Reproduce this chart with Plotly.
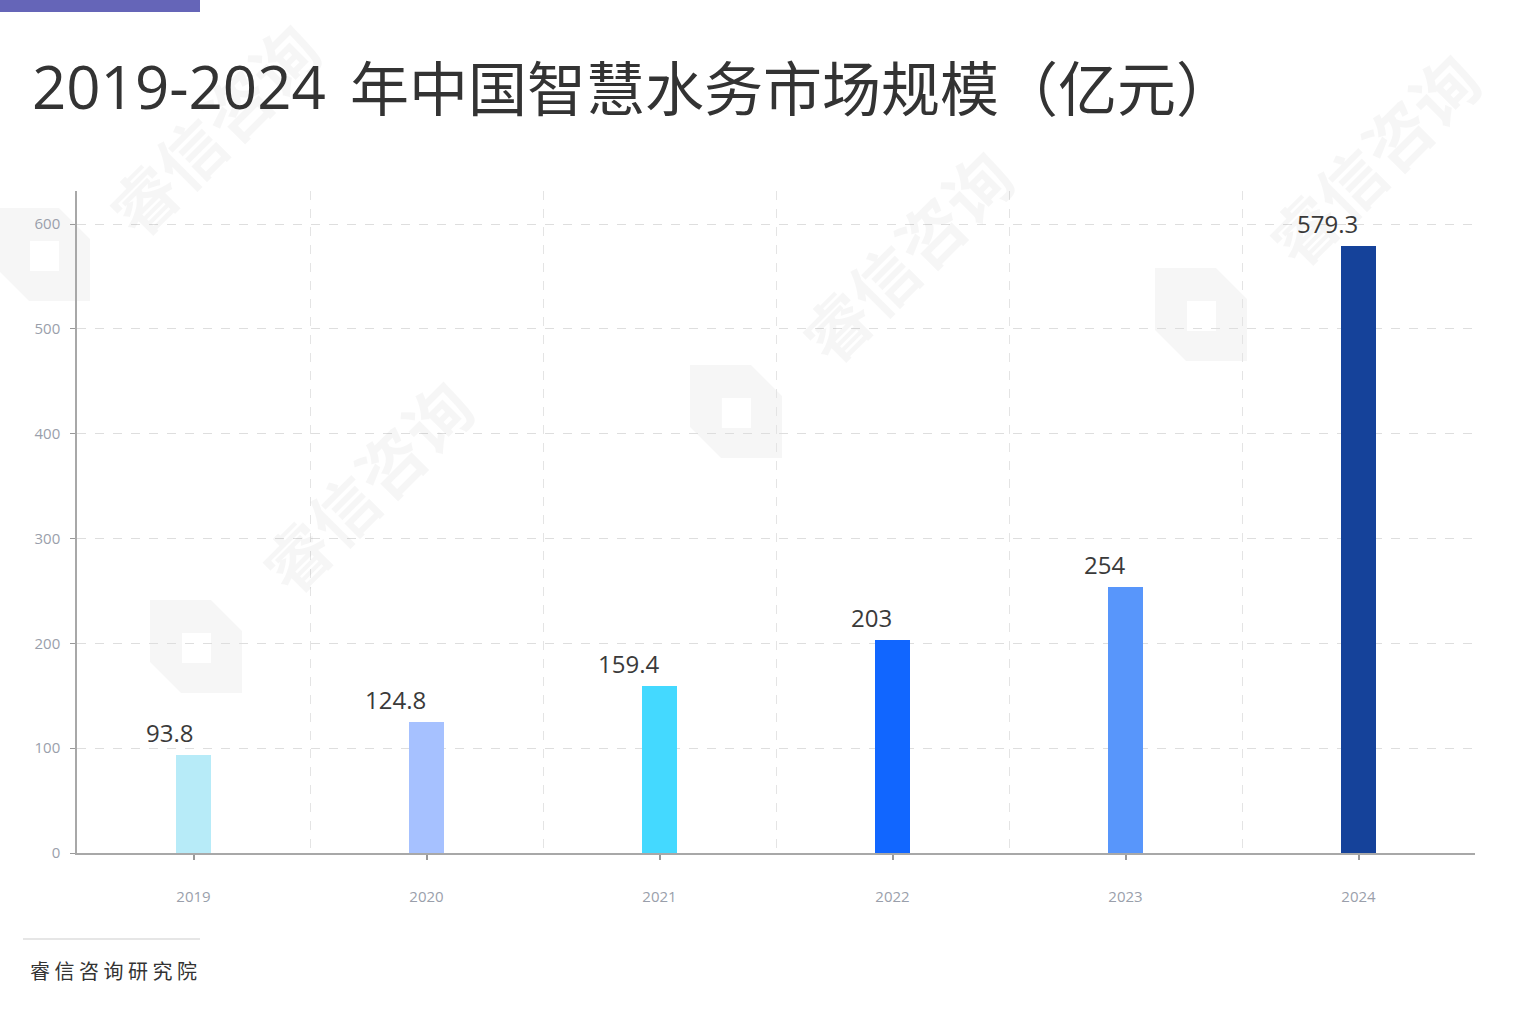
import plotly.graph_objects as go

years = ["2019", "2020", "2021", "2022", "2023", "2024"]
values = [93.8, 124.8, 159.4, 203, 254, 579.3]
value_labels = ["93.8", "124.8", "159.4", "203", "254", "579.3"]
bar_colors = ["#b7ebf8", "#a6c1ff", "#44d9ff", "#1166ff", "#5896fb", "#15429a"]
y_ticks = [0, 100, 200, 300, 400, 500, 600]

title_num = "2019-2024"
title_cn = "年中国智慧水务市场规模（亿元）"
source_text = "睿 信 咨 询 研 究 院"
watermark_text = "睿信咨询"

W, H = 1522, 1010
L, R, T, B = 77, 47, 191, 157
pw, ph = W - L - R, H - T - B


def px_x(px):
    return (px - L) / pw


def px_y(py):
    return (H - B - py) / ph


xs = list(range(len(years)))

fig = go.Figure()

# faint logo watermarks
for (ox, oy) in [(-2, 208), (150, 600), (690, 365), (1155, 268)]:
    outer = [(0, 0), (61, 0), (92, 31), (92, 93), (31, 93), (0, 62)]
    inner = [(32, 33), (61, 33), (61, 63), (32, 63)]

    def poly(pts):
        return "M " + " L ".join(f"{px_x(ox + a):.5f},{px_y(oy + b):.5f}" for a, b in pts) + " Z"

    fig.add_shape(type="path", xref="paper", yref="paper", path=poly(outer) + " " + poly(inner),
                  fillcolor="rgba(0,0,0,0.035)", line=dict(width=0), layer="below",
                  fillrule="evenodd")

fig.add_trace(go.Bar(
    x=xs, y=values, width=0.146,
    marker=dict(color=bar_colors, line=dict(width=0)),
    hoverinfo="skip",
))

# value labels (right edge aligned at bar centre, as in reference)
for x, v, t in zip(xs, values, value_labels):
    fig.add_annotation(x=x, y=v, xref="x", yref="y", text=t, showarrow=False,
                       xanchor="right", yanchor="bottom", yshift=4, xshift=1,
                       font=dict(family="Open Sans, Noto Sans, sans-serif", size=24, color="#3a3a3a"))

# text watermarks
wm_font = dict(family="Noto Sans CJK SC", size=66, color="rgba(0,0,0,0.035)")
for (cx, cy) in [(212, 128), (365, 485), (905, 255), (1372, 158)]:
    fig.add_annotation(x=px_x(cx), y=px_y(cy), xref="paper", yref="paper",
                       text="<b>" + watermark_text + "</b>", showarrow=False, textangle=-45,
                       font=wm_font, xanchor="center", yanchor="middle")

axis_font = dict(family="Open Sans, Noto Sans, sans-serif", size=15, color="#9a9fab")
fig.update_layout(
    width=W, height=H,
    margin=dict(l=L, r=R, t=T, b=B),
    paper_bgcolor="white", plot_bgcolor="white",
    showlegend=False,
    bargap=0,
    xaxis=dict(
        range=[-0.5, len(years) - 0.5],
        tickvals=xs, ticktext=years,
        showgrid=False, zeroline=False,
        showline=True, linecolor="#a8a8a8", linewidth=1.5,
        ticks="outside", ticklen=5, tickcolor="#999999", tickwidth=1.5,
        ticklabelstandoff=24,
        tickfont=axis_font,
        minor=dict(tickvals=[i + 0.5 for i in xs], showgrid=True, gridcolor="#e4e4e4",
                   griddash="dash", gridwidth=1, ticks=""),
        fixedrange=True,
    ),
    yaxis=dict(
        range=[0, 631.5],
        tickvals=y_ticks,
        showgrid=True, gridcolor="#dedede", griddash="dash", gridwidth=1,
        zeroline=False,
        showline=True, linecolor="#a8a8a8", linewidth=1.5,
        ticks="outside", ticklen=5, tickcolor="#999999",
        ticklabelstandoff=7,
        tickfont=axis_font,
        fixedrange=True,
    ),
)

# title, header bar, footer
title_font = dict(family="Open Sans, Noto Sans CJK SC", size=60, color="#333333")
fig.add_annotation(x=px_x(30), y=px_y(86), xref="paper", yref="paper", text=title_num,
                   showarrow=False, xanchor="left", yanchor="middle", font=title_font)
fig.add_annotation(x=px_x(348), y=px_y(86), xref="paper", yref="paper", text=title_cn,
                   showarrow=False, xanchor="left", yanchor="middle",
                   font=dict(family="Noto Sans CJK SC", size=59, color="#333333"))
fig.add_shape(type="rect", xref="paper", yref="paper", x0=px_x(0), x1=px_x(200),
              y0=px_y(12), y1=px_y(0), fillcolor="#6565b8", line=dict(width=0), layer="above")
fig.add_shape(type="line", xref="paper", yref="paper", x0=px_x(23), x1=px_x(200),
              y0=px_y(939), y1=px_y(939), line=dict(color="#e6e6e6", width=2))
fig.add_annotation(x=px_x(28), y=px_y(970), xref="paper", yref="paper",
                   text=source_text, showarrow=False, xanchor="left", yanchor="middle",
                   font=dict(family="Noto Sans CJK SC", size=20, color="#333333"))

fig.write_html("out.html", config={"displayModeBar": False},
               post_script="document.body.style.margin='0';document.body.style.overflow='hidden';")
